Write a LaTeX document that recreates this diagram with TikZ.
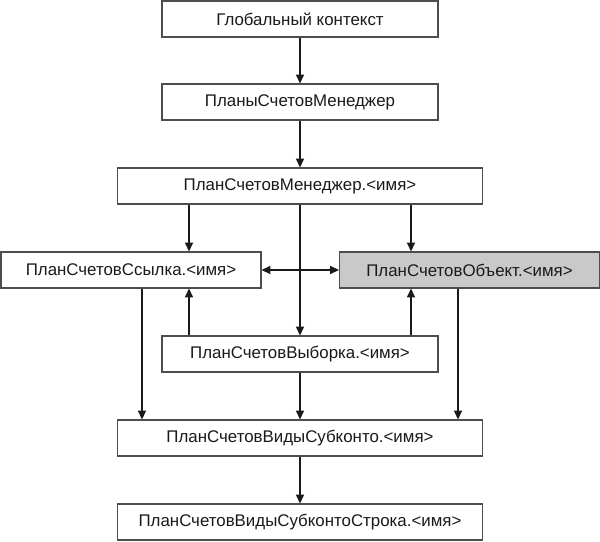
\documentclass[tikz,border=0pt]{standalone}
\usepackage{fontspec}
\setmainfont{Liberation Sans}
\usetikzlibrary{arrows.meta,positioning}
\definecolor{pcink}{HTML}{1A1A1A}
\definecolor{pcframe}{HTML}{4D4D4D}
\definecolor{pcgray}{HTML}{C9C9C9}
\tikzset{
  pc text/.style={font=\fontsize{12}{14}\selectfont, text=pcink},
  pc box/.style={draw=pcframe, line width=0.8pt, fill=white,
    minimum height=9mm, inner sep=0pt, align=center, font=\fontsize{12}{14}\selectfont},
  pc small/.style={pc box, minimum width=69mm},
  pc wide/.style={pc box, minimum width=91.2mm},
  pc side/.style={pc box, minimum width=65mm},
  pc arrow/.style={-{Triangle[length=2.2mm,width=2mm]}, line width=1.3pt, draw=pcink},
  pc both/.style={{Triangle[length=2.2mm,width=2mm]}-{Triangle[length=2.2mm,width=2mm]},
    line width=1.3pt, draw=pcink}
}

\begin{document}
\begin{tikzpicture}[pc text, x=1cm, y=1cm]
  \useasboundingbox (0,0) rectangle (15,13.525);
  % columns of the vertical connectors
  \coordinate (colmid) at (7.5,0);
  \coordinate (colinl) at (4.725,0);
  \coordinate (colinr) at (10.275,0);
  \coordinate (colout) at (3.55,0);
  \coordinate (colour) at (11.45,0);

  \node[pc small] (global) at (7.5,13.05) {Глобальный контекст};
  \node[pc small] (plans) at (7.5,10.975) {ПланыСчетовМенеджер};
  \node[pc wide] (manager) at (7.5,8.875) {ПланСчетовМенеджер.<имя>};
  \node[pc side] (ref) at (3.275,6.775) {ПланСчетовСсылка.<имя>};
  \node[pc side, fill=pcgray] (obj) at (11.7375,6.775) {ПланСчетовОбъект.<имя>};
  \node[pc small] (sel) at (7.5,4.675) {ПланСчетовВыборка.<имя>};
  \node[pc wide] (kinds) at (7.5,2.575) {ПланСчетовВидыСубконто.<имя>};
  \node[pc wide] (row) at (7.5,0.475) {ПланСчетовВидыСубконтоСтрока.<имя>};

  \draw[pc arrow] (global) -- (plans);
  \draw[pc arrow] (plans) -- (manager);
  \draw[pc arrow] (manager.south -| colinl) -- (ref.north -| colinl);
  \draw[pc arrow] (manager.south -| colinr) -- (obj.north -| colinr);
  \draw[pc arrow] (manager) -- (sel);
  \draw[pc both] (ref) -- (obj);
  \draw[pc arrow] (sel.north -| colinl) -- (ref.south -| colinl);
  \draw[pc arrow] (sel.north -| colinr) -- (obj.south -| colinr);
  \draw[pc arrow] (ref.south -| colout) -- (kinds.north -| colout);
  \draw[pc arrow] (obj.south -| colour) -- (kinds.north -| colour);
  \draw[pc arrow] (sel) -- (kinds);
  \draw[pc arrow] (kinds) -- (row);
\end{tikzpicture}
\end{document}
